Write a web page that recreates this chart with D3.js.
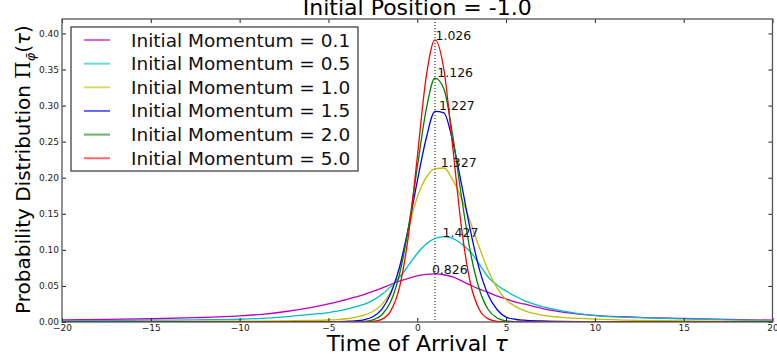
<!DOCTYPE html>
<html>
<head>
<meta charset="utf-8">
<script src="https://cdn.jsdelivr.net/npm/d3@7"></script>
<style>
body { margin: 0; background: #fff; }
text { font-family: "DejaVu Sans", sans-serif; }
</style>
</head>
<body>
<svg id="chart" width="777" height="358"></svg>
<script>
// sample times (tau) shared by every curve
const tau = [-20, -17.5, -15, -12.5, -10, -8.75, -7.5, -6, -5, -4.5, -4, -3.5, -3, -2.5, -2, -1.5,
    -1, -0.5, 0, 0.5, 1, 1.5, 2, 2.5, 3, 3.5, 4, 4.5, 5, 5.5, 6, 7, 8, 10, 12.5, 15, 17.5, 20];

// probability distribution values
const momentum01 = [0.0028, 0.0035, 0.0045, 0.006, 0.0085, 0.0107, 0.0142, 0.020, 0.025, 0.028, 0.031, 0.0345,
    0.038, 0.0425, 0.047, 0.052, 0.0565, 0.0605, 0.0638, 0.066, 0.0666, 0.0655, 0.0625, 0.057, 0.051, 0.0455,
    0.041, 0.036, 0.032, 0.028, 0.025, 0.019, 0.0145, 0.0092, 0.0065, 0.005, 0.0036, 0.0025];
const momentum05 = [0.0016, 0.002, 0.0025, 0.003, 0.0038, 0.005, 0.0072, 0.0105, 0.013, 0.0152, 0.0175, 0.021,
    0.0245, 0.030, 0.038, 0.049, 0.062, 0.078, 0.095, 0.108, 0.116, 0.1183, 0.116, 0.108, 0.097, 0.080,
    0.062, 0.051, 0.043, 0.036, 0.030, 0.0215, 0.016, 0.0088, 0.006, 0.0042, 0.003, 0.002];
const momentum10 = [0.0005, 0.0006, 0.0007, 0.0009, 0.0011, 0.0013, 0.0016, 0.0022, 0.0028, 0.0033, 0.0045, 0.0065,
    0.0095, 0.0145, 0.024, 0.042, 0.074, 0.128, 0.173, 0.200, 0.2125, 0.2135, 0.197, 0.171, 0.138, 0.103,
    0.071, 0.047, 0.031, 0.022, 0.016, 0.0095, 0.0068, 0.004, 0.0023, 0.0015, 0.001, 0.0007];
const momentum15 = [0, 0, 0.0001, 0.0001, 0.0001, 0.0001, 0.0002, 0.0003, 0.0004, 0.0006, 0.001, 0.0016,
    0.003, 0.0072, 0.0175, 0.039, 0.076, 0.130, 0.195, 0.254, 0.292, 0.290, 0.250, 0.190, 0.126, 0.073,
    0.037, 0.017, 0.0068, 0.0038, 0.0025, 0.0014, 0.0009, 0.0005, 0.0003, 0.0002, 0.0001, 0.0001];
const momentum20 = [0, 0, 0, 0, 0, 0, 0, 0, 0, 0, 0, 0.0002,
    0.0007, 0.0029, 0.0098, 0.028, 0.066, 0.130, 0.214, 0.294, 0.338, 0.323, 0.258, 0.172, 0.096, 0.045,
    0.017, 0.0056, 0.0015, 0.0003, 0.0001, 0, 0, 0, 0, 0, 0, 0];
const momentum50 = [0, 0, 0, 0, 0, 0, 0, 0, 0, 0, 0, 0,
    0.0001, 0.0007, 0.0036, 0.015, 0.048, 0.119, 0.228, 0.339, 0.391, 0.350, 0.242, 0.129, 0.053, 0.017,
    0.0043, 0.0008, 0.0001, 0, 0, 0, 0, 0, 0, 0, 0, 0];

const momentumNames = ["0.1", "0.5", "1.0", "1.5", "2.0", "5.0"];
const seriesColors = ["#bf00bf", "#00bfbf", "#bfbf00", "#0000ff", "#008000", "#ff0000"];

// peak location / height for each curve, annotated with the location
const peakTau = [0.826, 1.427, 1.327, 1.227, 1.126, 1.026];
const peakValue = [0.0666, 0.1183, 0.2145, 0.294, 0.339, 0.391];

const xTicks = [-20, -15, -10, -5, 0, 5, 10, 15, 20];
const yTicks = [0, 0.05, 0.10, 0.15, 0.20, 0.25, 0.30, 0.35, 0.40];
const markerTau = 1.0;

(function() {
    const svg = d3.select("#chart");
    const left = 62, right = 772.5, top = 19, bottom = 322;

    const x = d3.scaleLinear().domain([-20, 20]).range([left, right]);
    const y = d3.scaleLinear().domain([0, 0.42]).range([bottom, top]);

    const values = [momentum01, momentum05, momentum10, momentum15, momentum20, momentum50];
    const series = values.map((v, i) => {
        return {
            name: "Initial Momentum = " + momentumNames[i],
            color: seriesColors[i],
            points: tau.map((t, j) => [t, v[j]])
        };
    });

    svg.append("rect").attr("width", 777).attr("height", 358).attr("fill", "#fff");

    svg.append("clipPath").attr("id", "plot-clip")
        .append("rect")
        .attr("x", left).attr("y", top)
        .attr("width", right - left).attr("height", bottom - top);

    const plot = svg.append("g").attr("clip-path", "url(#plot-clip)");

    // dotted marker
    plot.append("line")
        .attr("x1", x(markerTau)).attr("x2", x(markerTau))
        .attr("y1", top).attr("y2", bottom)
        .attr("stroke", "#000")
        .attr("stroke-width", 1)
        .attr("stroke-dasharray", "1,2");

    const line = d3.line()
        .x(d => x(d[0]))
        .y(d => y(d[1]))
        .curve(d3.curveMonotoneX);

    plot.selectAll(".curve")
        .data(series)
        .enter()
        .append("path")
        .attr("class", "curve")
        .attr("fill", "none")
        .attr("stroke", d => d.color)
        .attr("stroke-width", 1.3)
        .attr("d", d => line(d.points));

    // peak annotations
    svg.append("g")
        .selectAll("text")
        .data(peakTau)
        .enter()
        .append("text")
        .attr("x", d => x(d))
        .attr("y", (d, i) => y(peakValue[i]))
        .attr("font-size", 12.5)
        .attr("fill", "#111")
        .text(d => d3.format(".3f")(d));

    // axes, ticks pointing inwards
    const tickStyle = (g) => {
        g.select(".domain").remove();
        g.selectAll(".tick line").attr("stroke", "#222");
        g.selectAll(".tick text").attr("fill", "#222").attr("font-size", 9)
            .attr("font-family", "DejaVu Sans, sans-serif");
    };

    svg.append("g")
        .attr("transform", "translate(0," + bottom + ")")
        .call(d3.axisBottom(x).tickValues(xTicks).tickSizeInner(-4).tickSizeOuter(0).tickPadding(3))
        .call(tickStyle);
    svg.append("g")
        .attr("transform", "translate(0," + top + ")")
        .call(d3.axisTop(x).tickValues(xTicks).tickSizeInner(-4).tickSizeOuter(0).tickFormat(""))
        .call(tickStyle);
    svg.append("g")
        .attr("transform", "translate(" + left + ",0)")
        .call(d3.axisLeft(y).tickValues(yTicks).tickSizeInner(-4).tickSizeOuter(0).tickPadding(3)
            .tickFormat(d3.format(".2f")))
        .call(tickStyle);
    svg.append("g")
        .attr("transform", "translate(" + right + ",0)")
        .call(d3.axisRight(y).tickValues(yTicks).tickSizeInner(-4).tickSizeOuter(0).tickFormat(""))
        .call(tickStyle);

    svg.append("rect")
        .attr("x", left).attr("y", top)
        .attr("width", right - left).attr("height", bottom - top)
        .attr("fill", "none")
        .attr("stroke", "#555")
        .attr("stroke-width", 1.3);

    // titles
    svg.append("text")
        .attr("x", (left + right) / 2).attr("y", 15)
        .attr("text-anchor", "middle")
        .attr("font-size", 22)
        .text("Initial Position = -1.0");

    const xLabel = svg.append("text")
        .attr("x", (left + right) / 2).attr("y", 351)
        .attr("text-anchor", "middle")
        .attr("font-size", 22);
    xLabel.append("tspan").text("Time of Arrival ");
    xLabel.append("tspan").attr("font-style", "italic").text("\u03C4");

    const yLabel = svg.append("text")
        .attr("transform", "translate(30,169.5) rotate(-90)")
        .attr("text-anchor", "middle")
        .attr("font-size", 20);
    yLabel.append("tspan").text("Probability Distribution ");
    yLabel.append("tspan").attr("font-family", "DejaVu Serif, serif").text("\u03A0");
    yLabel.append("tspan").attr("font-style", "italic").attr("font-size", 13)
        .attr("dy", 5).text("\u03C6\u0304");
    yLabel.append("tspan").attr("dy", -5).text("(");
    yLabel.append("tspan").attr("font-style", "italic").text("\u03C4");
    yLabel.append("tspan").text(")");

    // legend
    const legend = svg.append("g");
    legend.append("rect")
        .attr("x", 71).attr("y", 27)
        .attr("width", 287).attr("height", 144)
        .attr("fill", "#fff")
        .attr("stroke", "#333")
        .attr("stroke-width", 1.2);

    const rows = legend.selectAll(".row")
        .data(series)
        .enter()
        .append("g")
        .attr("class", "row")
        .attr("transform", (d, i) => "translate(0," + (40 + i * 23.65) + ")");
    rows.append("line")
        .attr("x1", 84).attr("x2", 110)
        .attr("stroke", d => d.color)
        .attr("stroke-opacity", 0.6)
        .attr("stroke-width", 2);
    rows.append("text")
        .attr("x", 131).attr("y", 6.5)
        .attr("font-size", 18.5)
        .attr("fill", "#111")
        .text(d => d.name);
})();
</script>
</body>
</html>
